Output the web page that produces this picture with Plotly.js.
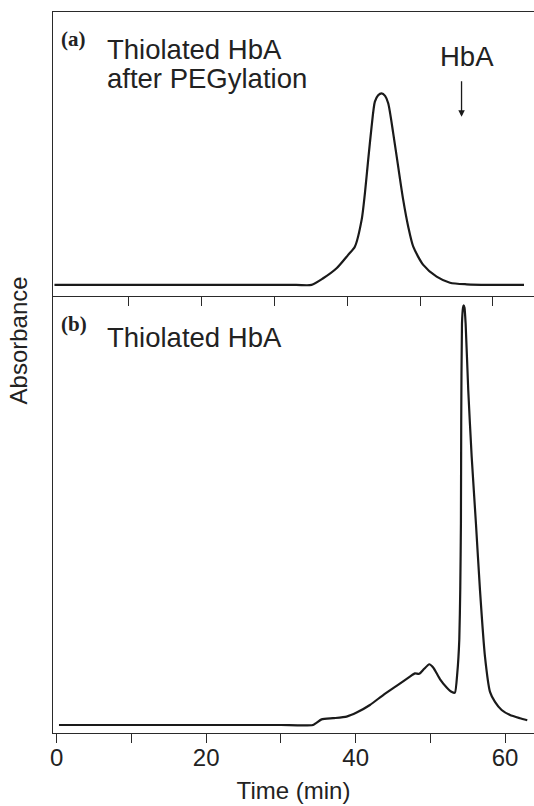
<!DOCTYPE html>
<html>
<head>
<meta charset="utf-8">
<script src="https://cdn.plot.ly/plotly-3.0.1.min.js"></script>
<style>html,body{margin:0;padding:0;background:#fff;}#chart{width:534px;height:806px;}</style>
</head>
<body>
<div id="chart"></div>
<script>
// (a) Thiolated HbA after PEGylation — time (min) and absorbance (arbitrary units)
const timeA = [-0.2, 12, 24, 33, 35.1, 36.7, 38.54, 40.13, 41.05, 41.98, 42.43, 42.88, 43.35, 43.8, 44.25, 44.72, 45.2, 45.63, 46.32, 47.0, 47.69, 48.38, 49.07, 50.44, 52.28, 54.11, 56.4, 60.5, 64.28];
const absA  = [0.057, 0.057, 0.057, 0.057, 0.057, 0.090, 0.140, 0.207, 0.248, 0.382, 0.515, 0.682, 0.848, 0.973, 1.005, 1.015, 1.002, 0.965, 0.815, 0.648, 0.482, 0.348, 0.248, 0.157, 0.098, 0.068, 0.060, 0.057, 0.057];

// (b) Thiolated HbA
const timeB = [0.3, 10, 20, 30, 34.28, 35.44, 36.99, 38.79, 40.13, 41.91, 43.69, 45.48, 47.26, 47.93, 48.51, 49.14, 49.85, 50.38, 51.28, 52.18, 52.89, 53.29, 53.6, 53.87, 54.0, 54.09, 54.13, 54.23, 54.37, 54.45, 54.57, 54.72, 55.07, 55.53, 56.1, 56.64, 57.31, 57.98, 58.65, 59.54, 60.66, 62.0, 62.97];
const absB  = [0.020, 0.020, 0.020, 0.020, 0.020, 0.034, 0.037, 0.041, 0.051, 0.070, 0.095, 0.118, 0.141, 0.149, 0.148, 0.160, 0.172, 0.164, 0.135, 0.114, 0.1025, 0.101, 0.149, 0.233, 0.358, 0.525, 0.775, 1.024, 1.064, 1.070, 1.064, 1.024, 0.858, 0.691, 0.524, 0.358, 0.191, 0.103, 0.078, 0.0575, 0.045, 0.037, 0.032];

const tickVals = [0, 10, 20, 30, 40, 50, 60];
const tickText = ['0', '', '20', '', '40', '', '60'];
const topTickVals = [10, 20, 30, 40, 50, 60];

const SANS = '"Liberation Sans", Arial, Helvetica, sans-serif';
const SERIF = '"Liberation Serif", "Times New Roman", serif';
const INK = '#1a1a1a';
const AX = '#2a2a2a';

const split = 0.6057;

const traces = [
  {x: timeA, y: absA, xaxis: 'x2', yaxis: 'y2', mode: 'lines',
   line: {color: INK, width: 2.2, shape: 'spline', smoothing: 0.7}, hoverinfo: 'skip'},
  {x: timeB, y: absB, xaxis: 'x', yaxis: 'y', mode: 'lines',
   line: {color: INK, width: 2.2, shape: 'spline', smoothing: 0.5}, hoverinfo: 'skip'}
];

const layout = {
  width: 534, height: 806,
  margin: {l: 53, r: 0, t: 12, b: 73},
  paper_bgcolor: '#fff', plot_bgcolor: '#fff',
  showlegend: false,
  font: {family: SANS, color: '#222'},
  xaxis: {
    domain: [0, 1], anchor: 'y', range: [-0.5, 63.87],
    tickmode: 'array', tickvals: tickVals, ticktext: tickText,
    ticks: 'outside', ticklen: 9, tickwidth: 1, tickcolor: AX,
    ticklabelstandoff: -6,
    showline: true, linecolor: AX, linewidth: 1.2,
    showgrid: false, zeroline: false,
    tickfont: {family: SANS, size: 24, color: '#222'},
    title: {text: 'Time (min)', font: {family: SANS, size: 24, color: '#222'}, standoff: 12}
  },
  yaxis: {
    domain: [0, split], anchor: 'x', range: [0, 1.0925],
    showline: true, linecolor: AX, linewidth: 1.2,
    showticklabels: false, ticks: '', showgrid: false, zeroline: false
  },
  xaxis2: {
    domain: [0, 1], anchor: 'y2', range: [-0.40, 65.65],
    tickmode: 'array', tickvals: topTickVals,
    ticks: 'outside', ticklen: 9, tickwidth: 1, tickcolor: AX,
    showticklabels: false,
    showline: true, mirror: true, linecolor: AX, linewidth: 1.2,
    showgrid: false, zeroline: false
  },
  yaxis2: {
    domain: [split, 1], anchor: 'x2', range: [0, 1.4215],
    showline: true, linecolor: AX, linewidth: 1.2,
    showticklabels: false, ticks: '', showgrid: false, zeroline: false
  },
  annotations: [
    {xref: 'paper', yref: 'paper', x: -0.072, y: 0.545, text: 'Absorbance', textangle: -90,
     showarrow: false, xanchor: 'center', yanchor: 'middle', font: {family: SANS, size: 24, color: '#222'}},
    {xref: 'paper', yref: 'paper', x: 0.012, y: (733 - 25) / 721, text: '<b>(a)</b>', showarrow: false,
     xanchor: 'left', yanchor: 'top', font: {family: SERIF, size: 21, color: '#222'}},
    {xref: 'paper', yref: 'paper', x: 0.109, y: (733 - 32) / 721, text: 'Thiolated HbA', showarrow: false,
     xanchor: 'left', yanchor: 'top', font: {family: SANS, size: 27.5, color: '#222'}},
    {xref: 'paper', yref: 'paper', x: 0.109, y: (733 - 61) / 721, text: 'after PEGylation', showarrow: false,
     xanchor: 'left', yanchor: 'top', font: {family: SANS, size: 27.5, color: '#222'}},
    {xref: 'paper', yref: 'paper', x: 0.801, y: (733 - 39) / 721, text: 'HbA', showarrow: false,
     xanchor: 'left', yanchor: 'top', font: {family: SANS, size: 27.5, color: '#222'}},
    {xref: 'x2', yref: 'y2', x: 55.7, y: 0.898, text: '', showarrow: true,
     ax: 0, ay: -37, arrowhead: 2, arrowsize: 1, arrowwidth: 1.3, arrowcolor: INK},
    {xref: 'paper', yref: 'paper', x: 0.012, y: (733 - 310) / 721, text: '<b>(b)</b>', showarrow: false,
     xanchor: 'left', yanchor: 'top', font: {family: SERIF, size: 21, color: '#222'}},
    {xref: 'paper', yref: 'paper', x: 0.109, y: (733 - 320) / 721, text: 'Thiolated HbA', showarrow: false,
     xanchor: 'left', yanchor: 'top', font: {family: SANS, size: 27.5, color: '#222'}}
  ]
};

Plotly.newPlot('chart', traces, layout, {staticPlot: true, displayModeBar: false});
</script>
</body>
</html>
